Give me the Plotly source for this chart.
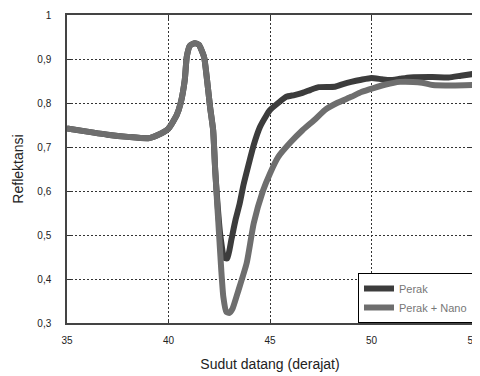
import plotly.graph_objects as go

# Perak (silver)
perak_x = [35.0, 36.0, 37.0, 38.0, 39.0, 39.5, 40.0, 40.4, 40.6, 40.8, 40.9, 41.05, 41.3, 41.5, 41.75, 41.9, 42.05, 42.2, 42.3, 42.4, 42.55, 42.75, 42.9, 43.1, 43.3, 43.5, 43.7, 44.0, 44.2, 44.5, 44.8, 45.0, 45.4, 45.8, 46.2, 46.6, 47.0, 47.4, 48.2, 48.6, 49.0, 49.5, 50.0, 50.5, 50.9, 51.4, 51.9, 53.0, 53.8, 54.4, 55.0]
perak_y = [0.742, 0.735, 0.728, 0.723, 0.720, 0.728, 0.742, 0.772, 0.800, 0.852, 0.905, 0.930, 0.936, 0.932, 0.905, 0.852, 0.790, 0.738, 0.648, 0.580, 0.500, 0.448, 0.447, 0.490, 0.534, 0.570, 0.615, 0.670, 0.705, 0.745, 0.770, 0.784, 0.800, 0.814, 0.818, 0.823, 0.830, 0.836, 0.837, 0.843, 0.848, 0.853, 0.857, 0.854, 0.852, 0.855, 0.858, 0.859, 0.858, 0.862, 0.866]

# Perak + Nano
nano_x = [35.0, 36.0, 37.0, 38.0, 39.0, 39.5, 40.0, 40.4, 40.6, 40.8, 40.9, 41.05, 41.3, 41.5, 41.75, 41.9, 42.05, 42.2, 42.3, 42.4, 42.5, 42.6, 42.7, 42.85, 43.0, 43.15, 43.45, 43.85, 44.2, 44.65, 45.0, 45.4, 46.0, 46.6, 47.2, 47.7, 48.3, 49.0, 49.5, 50.1, 50.7, 51.4, 52.05, 52.5, 53.0, 54.0, 55.0]
nano_y = [0.742, 0.735, 0.728, 0.723, 0.720, 0.728, 0.742, 0.772, 0.800, 0.852, 0.905, 0.930, 0.936, 0.932, 0.905, 0.852, 0.790, 0.738, 0.648, 0.570, 0.495, 0.420, 0.360, 0.325, 0.323, 0.332, 0.375, 0.436, 0.527, 0.600, 0.640, 0.677, 0.710, 0.738, 0.762, 0.784, 0.800, 0.814, 0.825, 0.834, 0.842, 0.848, 0.848, 0.846, 0.841, 0.840, 0.841]

x_ticks = [35, 40, 45, 50, 55]
y_ticks = [0.3, 0.4, 0.5, 0.6, 0.7, 0.8, 0.9, 1.0]
y_tick_labels = ["0,3", "0,4", "0,5", "0,6", "0,7", "0,8", "0,9", "1"]

FONT = "Liberation Sans, Arial, sans-serif"

fig = go.Figure()
fig.add_trace(go.Scatter(x=perak_x, y=perak_y, mode="lines", name="Perak",
                         line=dict(color="#3c3c3c", width=6, shape="spline", smoothing=0.5)))
fig.add_trace(go.Scatter(x=nano_x, y=nano_y, mode="lines", name="Perak + Nano",
                         line=dict(color="#6e6e6e", width=6, shape="spline", smoothing=0.5)))

axis_common = dict(
    showline=True, linecolor="#444444", linewidth=1.5, mirror="allticks",
    ticks="inside", ticklen=4, tickcolor="#333333",
    showgrid=True, gridcolor="#333333", griddash="2px,2px", gridwidth=1,
    zeroline=False, ticklabeloverflow="allow",
    tickfont=dict(family=FONT, size=10, color="#222222"),
)

fig.update_xaxes(range=[35, 55], tickvals=x_ticks, ticktext=[str(v) for v in x_ticks],
                 title=dict(text="Sudut datang (derajat)",
                            font=dict(family=FONT, size=14, color="#222222"),
                            standoff=14),
                 ticklabelstandoff=7,
                 **axis_common)
fig.update_yaxes(range=[0.3, 1.0], tickvals=y_ticks, ticktext=y_tick_labels,
                 title=dict(text="Reflektansi",
                            font=dict(family=FONT, size=14, color="#222222"),
                            standoff=10),
                 ticklabelstandoff=12,
                 **axis_common)

# page body has an 8px margin, so the figure is offset by 8px; sizes compensate
fig.update_layout(
    width=472, height=368,
    margin=dict(l=59, r=1, t=7, b=53),
    paper_bgcolor="white", plot_bgcolor="white",
    showlegend=True,
    legend=dict(x=1, y=0, xanchor="right", yanchor="bottom",
                bgcolor="white", bordercolor="black", borderwidth=1,
                font=dict(family=FONT, size=11, color="#777777"),
                tracegroupgap=0, itemwidth=30),
)

fig.write_html("out.html")
